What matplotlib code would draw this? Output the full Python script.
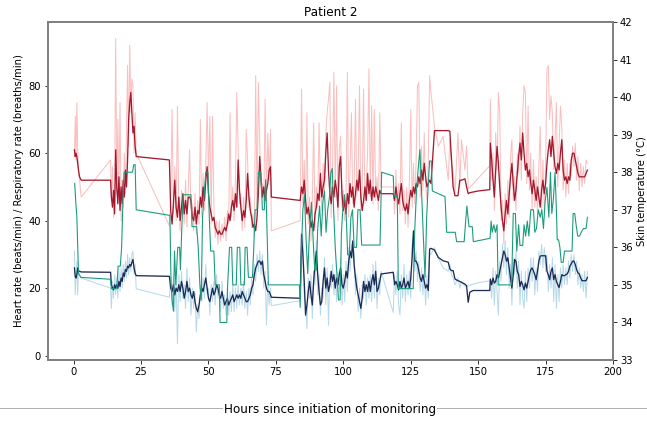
import matplotlib
matplotlib.use("Agg")
import matplotlib.pyplot as plt
from matplotlib.lines import Line2D


# ================== DỮ LIỆU: NHỊP TIM / NHỊP THỞ ==================
hours = [
    # 0-3 h
    0.3, 0.6, 0.9, 1.2, 1.5, 1.8, 2.2, 2.8,
    # 14-23 h
    13.7, 14.0, 14.4, 14.8, 15.2, 15.6, 16.0, 16.4, 16.8, 17.2,
    17.6, 18.0, 18.4, 18.8, 19.2, 19.6, 20.0, 20.4, 20.8, 21.2,
    21.6, 22.0, 22.4, 22.8, 23.2,
    # 35-73 h
    35.5, 36.0, 36.5, 37.0, 37.5, 38.0, 38.5, 39.0, 39.5, 40.0,
    40.5, 41.0, 41.5, 42.0, 42.5, 43.0, 43.5, 44.0, 44.5, 45.0,
    45.5, 46.0, 46.5, 47.0, 47.5, 48.0, 48.5, 49.0, 49.5, 50.0,
    50.5, 51.0, 51.5, 52.0, 52.5, 53.0, 53.5, 54.0, 54.5, 55.0,
    55.5, 56.0, 56.5, 57.0, 57.5, 58.0, 58.5, 59.0, 59.5, 60.0,
    60.5, 61.0, 61.5, 62.0, 62.5, 63.0, 63.5, 64.0, 64.5, 65.0,
    65.5, 66.0, 66.5, 67.0, 67.5, 68.0, 68.5, 69.0, 69.5, 70.0,
    70.5, 71.0, 71.5, 72.0, 72.5, 73.0, 73.3,
    # 84-114 h
    84.0, 84.5, 85.0, 85.5, 86.0, 86.5, 87.0, 87.5, 88.0, 88.5,
    89.0, 89.5, 90.0, 90.5, 91.0, 91.5, 92.0, 92.5, 93.0, 93.5,
    94.0, 94.5, 95.0, 95.5, 96.0, 96.5, 97.0, 97.5, 98.0, 98.5,
    99.0, 99.5, 100.0, 100.5, 101.0, 101.5, 102.0, 102.5, 103.0, 103.5,
    104.0, 104.5, 105.0, 105.5, 106.0, 106.5, 107.0, 107.5, 108.0, 108.5,
    109.0, 109.5, 110.0, 110.5, 111.0, 111.5, 112.0, 112.5, 113.0, 113.5,
    114.0,
    # 118-132 h
    118.5, 119.0, 119.5, 120.0, 120.5, 121.0, 121.5, 122.0, 122.5, 123.0,
    123.5, 124.0, 124.5, 125.0, 125.5, 126.0, 126.5, 127.0, 127.5, 128.0,
    128.5, 129.0, 129.5, 130.0, 130.5, 131.0, 131.5, 132.0,
    # 132-154 h
    132.5, 133.8, 135.2, 137.0, 138.9, 139.5, 140.1, 140.7, 141.4, 142.5,
    143.2, 143.8, 145.1, 145.7, 146.3, 146.9, 148.1, 150.0, 154.3,
    # 154-191 h
    154.5, 155.0, 155.5, 156.0, 156.5, 157.0, 157.5, 158.0, 158.5, 159.0,
    159.5, 160.0, 160.5, 161.0, 161.5, 162.0, 162.5, 163.0, 163.5, 164.0,
    164.5, 165.0, 165.5, 166.0, 166.5, 167.0, 167.5, 168.0, 168.5, 169.0,
    169.5, 170.0, 170.5, 171.0, 171.5, 172.0, 172.5, 173.0, 173.5, 174.0,
    174.5, 175.0, 175.5, 176.0, 176.5, 177.0, 177.5, 178.0, 178.5, 179.0,
    179.5, 180.0, 180.5, 181.0, 181.5, 182.0, 182.5, 183.0, 183.5, 184.0,
    184.5, 185.0, 185.5, 186.0, 186.5, 187.0, 187.5, 188.0, 188.5, 189.0,
    189.5, 190.0, 190.5,
]

hr_raw = [
    59, 71, 58, 75, 62, 55, 52, 47,
    58, 46, 56, 41, 50, 94, 48, 70, 47, 75,
    40, 52, 44, 60, 48, 66, 86, 62, 92, 72,
    82, 80, 60, 72, 60,
    38.5, 47, 73, 42, 56, 40, 74, 44, 37, 49,
    45, 39, 52, 38, 50, 61, 43, 45, 37, 48,
    36, 46, 39, 70, 41, 54, 43, 57, 75, 52,
    71, 39, 71, 44, 35, 40, 33, 40, 34, 39,
    35, 41, 34, 43, 39, 72, 41, 50, 40, 52,
    78, 62, 45, 48, 37, 47, 38, 67, 58, 44,
    47, 38, 42, 35, 83, 44, 81, 63, 49, 51,
    45, 76, 46, 66, 52, 67, 37,
    40, 79, 45, 58, 42, 72, 39, 47, 34, 45,
    69, 38, 50, 44, 69, 50, 43, 57, 48, 66,
    72, 76, 81, 41, 56, 84, 47, 80, 40, 61,
    65, 44, 49, 40, 47, 84, 41, 56, 72, 45,
    49, 76, 47, 55, 80, 43, 49, 79, 45, 51,
    60, 85, 47, 74, 45, 73, 46, 53, 43, 72,
    50,
    50, 42, 55, 44, 51, 42, 69, 43, 49, 39,
    50, 38, 52, 73, 44, 57, 45, 58, 80, 81,
    47, 62, 49, 66, 50, 46, 58, 83,
    78, 68, 62, 65, 52, 64, 57, 55, 48, 66,
    50, 64, 55, 62, 49.4, 49.9, 50.9, 52.6, 56.3,
    76, 52, 60, 43, 66, 55, 78, 72, 40, 46,
    33, 48, 39, 52, 41, 59, 64, 46, 53, 43,
    60, 54, 68, 52, 72, 80, 78, 51, 74, 49,
    60, 43, 58, 44, 53, 42, 56, 68, 43, 58,
    43, 56, 85, 86, 70, 77, 72, 55, 64, 75,
    50, 62, 74, 68, 49, 58, 47, 57, 48, 57,
    53, 62, 56, 63, 52, 59, 49, 57, 50, 56,
    51, 58, 57,
]

hr_smooth = [
    61, 59, 60, 59, 57, 55, 53, 52,
    52, 47, 44, 49, 42, 61, 50, 45, 53, 43,
    50, 45, 52, 47, 55, 50, 58, 70, 75, 78,
    72, 66, 68, 62, 59,
    58, 43, 39, 45, 52, 44, 41, 47, 40, 44,
    48, 42, 46, 42, 47, 47, 46, 41, 40, 44,
    39, 43, 42, 47, 44, 50, 46, 52, 56, 48,
    44, 42, 40, 41, 38, 37, 36, 37, 36, 36,
    37, 38, 37, 39, 42, 40, 44, 46, 43, 48,
    44, 58, 49, 44, 40, 43, 41, 46, 54, 47,
    43, 41, 38, 39, 37, 41, 48, 59, 52, 47,
    50, 46, 49, 51, 55, 56, 47,
    46, 50, 48, 52, 46, 42, 44, 41, 38, 40,
    37, 42, 44, 48, 46, 54, 47, 50, 52, 60,
    66, 55, 48, 45, 50, 47, 52, 49, 44, 56,
    59, 48, 43, 46, 42, 48, 45, 51, 47, 50,
    44, 48, 52, 49, 55, 47, 43, 46, 50, 46,
    54, 48, 52, 46, 50, 47, 50, 48, 46, 49,
    48,
    48, 46, 50, 47, 45, 48, 51, 46, 44, 43,
    45, 42, 46, 49, 47, 50, 48, 51, 50, 53,
    51, 55, 52, 57, 53, 50, 51, 52,
    51, 66.7, 66.7, 66.7, 66.7, 66.5, 58, 50, 47.4, 47.4,
    52, 52, 52.4, 50, 48, 48.3, 48.5, 48.8, 49.2,
    63, 58, 52, 47, 55, 62, 57, 50, 44, 40,
    37, 42, 46, 42, 48, 53, 57, 51, 46, 49,
    54, 59, 63, 58, 66, 60, 55, 57, 53, 55,
    51, 48, 52, 49, 46, 50, 47, 44, 49, 52,
    48, 51, 57, 61, 64, 59, 65, 60, 56, 54,
    57, 55, 60, 64, 55, 52, 53, 51, 53, 52,
    58, 60, 60, 58, 56, 54, 53, 53, 53, 53,
    53, 54, 55,
]

rr_raw = [
    31, 18, 24, 28, 18, 26, 24, 23,
    20, 14, 22, 17, 24, 18, 23, 17, 25, 19,
    26, 20, 27, 22, 28, 23, 30, 24, 29, 25,
    30, 31, 24, 27, 19.8,
    17.3, 23, 15, 24, 13, 22, 3.5, 24, 16, 25,
    17, 21, 14, 26, 16, 23, 12, 20, 14, 19,
    7, 15, 11, 21, 16, 23, 17, 27, 18, 20,
    12, 21, 16, 22, 15, 24, 17, 21, 13, 22,
    14, 18, 12, 20, 12, 19, 13, 21, 13, 20,
    14, 21, 15, 20, 15, 22, 14, 19, 12, 20,
    15, 23, 18, 27, 22, 30, 25, 31, 24, 30,
    20, 25, 9, 22, 15, 20, 14.8,
    16.3, 31, 36, 18, 15, 8, 23, 17, 24, 11,
    25, 21, 34, 18, 24, 12, 20, 17, 29, 15,
    26, 9, 24, 20, 27, 18, 24, 16, 25, 19,
    29, 15, 24, 16, 28, 19, 32, 25, 33, 29,
    31, 18, 24, 13, 20, 11, 21, 17, 24, 15,
    23, 17, 24, 16, 27, 17, 28, 14, 23, 18,
    25,
    12.8, 24, 18, 25, 15, 12, 24, 17, 27, 16,
    24, 18, 25, 17, 33, 35, 25, 31, 22, 28,
    19, 26, 18, 25, 15, 24, 17, 30,
    30, 32, 29, 26, 25, 27, 24, 23, 21, 23,
    20, 22, 20.5, 20.7, 20.7, 20.9, 21.2, 21.6, 22.2,
    22.2, 17, 26, 15, 25, 19, 12, 28, 22, 33,
    26, 34, 24, 32, 20, 27, 15, 29, 24, 31,
    20, 28, 15, 25, 17, 14, 25, 16, 26, 20,
    29, 22, 29, 18, 26, 19, 31, 27, 33, 26,
    32, 25, 30, 19, 27, 20, 29, 16, 27, 14,
    24, 16, 26, 20, 27, 21, 26, 21, 28, 23,
    30, 25, 30, 24, 28, 21, 26, 20, 24, 19,
    25, 17, 25,
]

rr_smooth = [
    26, 23.5, 23, 24, 26, 25, 25, 24.8,
    24.7, 21, 20, 19.5, 21, 20, 21, 20, 22, 20.5,
    23, 22, 24.5, 23.5, 25.5, 25, 26.5, 26, 27, 26.5,
    27.5, 28.5, 26, 24.5, 23.7,
    23.5, 20, 19, 21, 18, 20, 19, 21, 19, 22,
    20, 17, 19, 22, 19, 20, 18, 17, 19, 16,
    14, 13, 15, 18, 20, 19, 21, 23, 20, 17,
    16, 18, 20, 18, 19, 21, 20, 18, 17, 19,
    17, 15, 16, 17, 15, 16, 17, 18, 16, 17,
    18, 17, 18, 17, 19, 18, 17, 16, 16, 17,
    18, 20, 21, 24, 26, 27, 28, 28, 27, 28,
    24, 22, 20, 19, 19, 18, 17.3,
    17, 36, 30, 22, 12, 15, 19, 22, 18, 15,
    22, 27, 31, 24, 19, 15, 16, 22, 26, 20,
    23, 19, 21, 25, 22, 24, 20, 23, 21, 24,
    26, 21, 20, 22, 25, 23, 28, 31, 29, 34,
    27, 23, 20, 18, 16, 14, 17, 22, 19, 21,
    19, 22, 19, 22, 24, 21, 25, 19, 20, 22,
    24.2,
    24.7, 21, 22, 21, 19.5, 22, 20, 21, 23, 20,
    21, 22, 20, 23, 29, 37, 28, 28, 27, 25,
    23, 22, 24, 22, 20, 21, 19.3, 31.6,
    31.8, 31.3, 29.1, 28.1, 27.7, 25.7, 25.2, 25.2, 22.7, 22.2,
    22.0, 21.7, 21.2, 20.7, 15.8, 18.8, 19.3, 19.3, 19.3,
    22.7, 21, 23, 21.5, 22, 24, 23, 25, 27, 29,
    31, 30, 28, 29, 26, 23, 20, 24, 28.5, 28,
    25, 24, 20.5, 22, 21, 19.5, 21.5, 20, 22, 24,
    25.5, 26, 25, 24, 22.5, 25, 28, 29.5, 29.6, 29.6,
    29.6, 29.6, 25, 24, 22.5, 25, 26, 22.5, 24, 22,
    21, 20.2, 22, 24, 23.7, 23.7, 24, 24.2, 25, 26.5,
    27.2, 28, 28, 27, 25.5, 24.5, 24.2, 23, 22.2, 22.2,
    22.2, 22.2, 23.2,
]

# ================== DỮ LIỆU: NHIỆT ĐỘ DA ==================
temp_hours = [
    0.4, 0.8, 1.2, 1.8, 2.7, 13.6, 14.0, 16.0, 16.5, 17.3,
    17.8, 18.3, 18.7, 21.8, 22.3, 22.8, 23.2, 35.7, 36.1, 36.5,
    37.0, 37.4, 37.9, 38.6, 39.3, 39.6, 40.1, 40.6, 43.5, 43.9,
    45.6, 46.2, 46.8, 47.3, 47.8, 48.4, 49.0, 49.8, 50.3, 50.8,
    52.0, 52.5, 54.0, 54.3, 56.8, 57.1, 57.8, 58.6, 59.0, 60.3,
    60.7, 61.6, 62.0, 63.3, 63.6, 64.3, 64.8, 66.3, 66.8, 67.3,
    68.0, 68.5, 69.4, 70.0, 70.7, 71.2, 71.8, 72.2, 83.7, 84.0,
    84.5, 85.0, 85.6, 86.2, 86.8, 87.5, 88.2, 88.8, 89.4, 90.0,
    90.5, 91.2, 91.8, 92.4, 93.0, 93.6, 94.2, 94.8, 95.4, 95.9,
    96.4, 97.0, 97.6, 98.2, 98.8, 99.3, 99.8, 100.4, 101.0, 101.6,
    102.2, 102.8, 103.4, 104.0, 104.9, 105.4, 106.2, 106.8, 113.6, 114.2,
    118.5, 118.8, 120.0, 120.4, 125.9, 126.5, 127.2, 128.0, 128.4, 129.0,
    129.6, 130.3, 130.9, 131.5, 132.0, 132.6, 133.0, 137.7, 138.3, 141.5,
    142.0, 144.8, 145.2, 145.8, 146.6, 147.8, 148.2, 154.4, 154.8, 155.2,
    155.8, 156.4, 157.0, 157.4, 162.4, 163.0, 163.8, 164.3, 165.0, 165.5,
    166.5, 167.0, 167.6, 168.2, 168.8, 169.5, 170.5, 171.0, 171.6, 172.3,
    173.0, 173.6, 174.2, 174.8, 175.5, 176.2, 176.8, 177.3, 177.9, 178.5,
    179.0, 179.3, 179.8, 180.3, 180.8, 181.5, 182.0, 184.8, 185.2, 185.8,
    186.3, 186.9, 187.6, 188.2, 189.0, 190.0, 190.5,
]

temp_vals = [
    37.7, 37.2, 36.8, 35.3, 35.2, 35.15, 34.9, 34.9, 35.5, 35.5,
    36.0, 37.3, 38.0, 38.0, 38.2, 38.2, 37.0, 36.85, 35.1, 34.6,
    34.3, 35.9, 35.0, 36.0, 36.0, 35.4, 36.5, 37.4, 37.4, 36.55,
    36.55, 36.0, 35.0, 34.6, 36.8, 37.4, 38.0, 38.0, 36.8, 35.9,
    35.9, 35.0, 35.0, 34.0, 34.0, 35.0, 36.0, 36.0, 35.0, 35.0,
    36.0, 36.0, 35.0, 35.0, 36.0, 36.0, 35.2, 35.2, 36.0, 37.0,
    37.0, 38.0, 38.0, 37.0, 37.0, 37.8, 36.2, 35.0, 35.0, 34.4,
    36.0, 37.0, 37.4, 36.2, 35.3, 36.5, 37.2, 36.2, 35.4, 35.4,
    36.5, 37.1, 36.3, 37.2, 37.5, 36.4, 37.0, 37.3, 38.0, 38.1,
    37.0, 36.0, 35.3, 34.6, 34.6, 36.4, 37.0, 37.4, 37.0, 35.8,
    35.8, 36.8, 37.0, 36.0, 36.0, 37.0, 37.0, 36.06, 36.06, 38.0,
    37.9, 37.35, 37.35, 34.9, 34.9, 36.5, 37.6, 38.3, 38.6, 37.5,
    36.4, 35.2, 36.8, 37.7, 38.3, 38.3, 37.5, 37.35, 36.4, 36.4,
    36.15, 36.15, 36.55, 37.1, 36.55, 36.55, 36.15, 36.24, 36.7, 36.4,
    36.6, 36.4, 36.6, 35.0, 35.0, 36.9, 36.9, 35.9, 36.6, 36.05,
    36.05, 36.6, 36.3, 36.7, 36.3, 37.0, 37.0, 36.4, 36.5, 37.0,
    36.8, 37.0, 36.5, 37.2, 37.6, 36.8, 38.0, 36.9, 37.3, 38.0,
    37.0, 36.2, 36.2, 36.0, 35.6, 35.6, 35.9, 35.9, 36.9, 36.9,
    36.6, 36.3, 36.3, 36.4, 36.5, 36.5, 36.8,
]

x_ticks = [0, 25, 50, 75, 100, 125, 150, 175, 200]
left_ticks = [0, 20, 40, 60, 80]
right_ticks = [33, 34, 35, 36, 37, 38, 39, 40, 41, 42]

# ================== VẼ BIỂU ĐỒ ==================
fig = plt.figure(figsize=(647 / 72, 421 / 72), dpi=72)
ax = fig.add_axes([0.0742, 0.1449, 0.8733, 0.8029])

ax.plot(hours, hr_raw, color="#f9a8a8", lw=1.0, alpha=0.75)
ax.plot(hours, hr_smooth, color="#a3192f", lw=1.3)
ax.plot(hours, rr_raw, color="#a3d0e3", lw=1.0, alpha=0.8)
ax.plot(hours, rr_smooth, color="#1c2a55", lw=1.3)

ax.set_xlim(-9.5, 200)
ax.set_ylim(-1.3, 98.9)
ax.set_xticks(x_ticks)
ax.set_yticks(left_ticks)
ax.set_ylabel("Heart rate (beats/min) / Respiratory rate (breaths/min)", fontsize=10)
ax.set_title("Patient 2", fontsize=12)

ax2 = ax.twinx()
ax2.plot(temp_hours, temp_vals, color="#1a9c7c", lw=1.1)
ax2.set_ylim(33, 42)
ax2.set_yticks(right_ticks)
ax2.set_ylabel("Skin temperature (°C)", fontsize=10)

for a in (ax, ax2):
    for s in a.spines.values():
        s.set_color("#808080")
        s.set_linewidth(1.8)
    a.tick_params(labelsize=10)

# đường kẻ ngang + nhãn trục x ở đáy hình
fig.add_artist(Line2D([0, 1], [0.0302, 0.0302], color="#b0b0b0", lw=1.0,
                      transform=fig.transFigure))
fig.text(0.51, 0.0183, "Hours since initiation of monitoring", fontsize=12,
         ha="center", va="baseline",
         bbox=dict(facecolor="white", edgecolor="none", pad=1))

fig.savefig("out.png", dpi=72)
